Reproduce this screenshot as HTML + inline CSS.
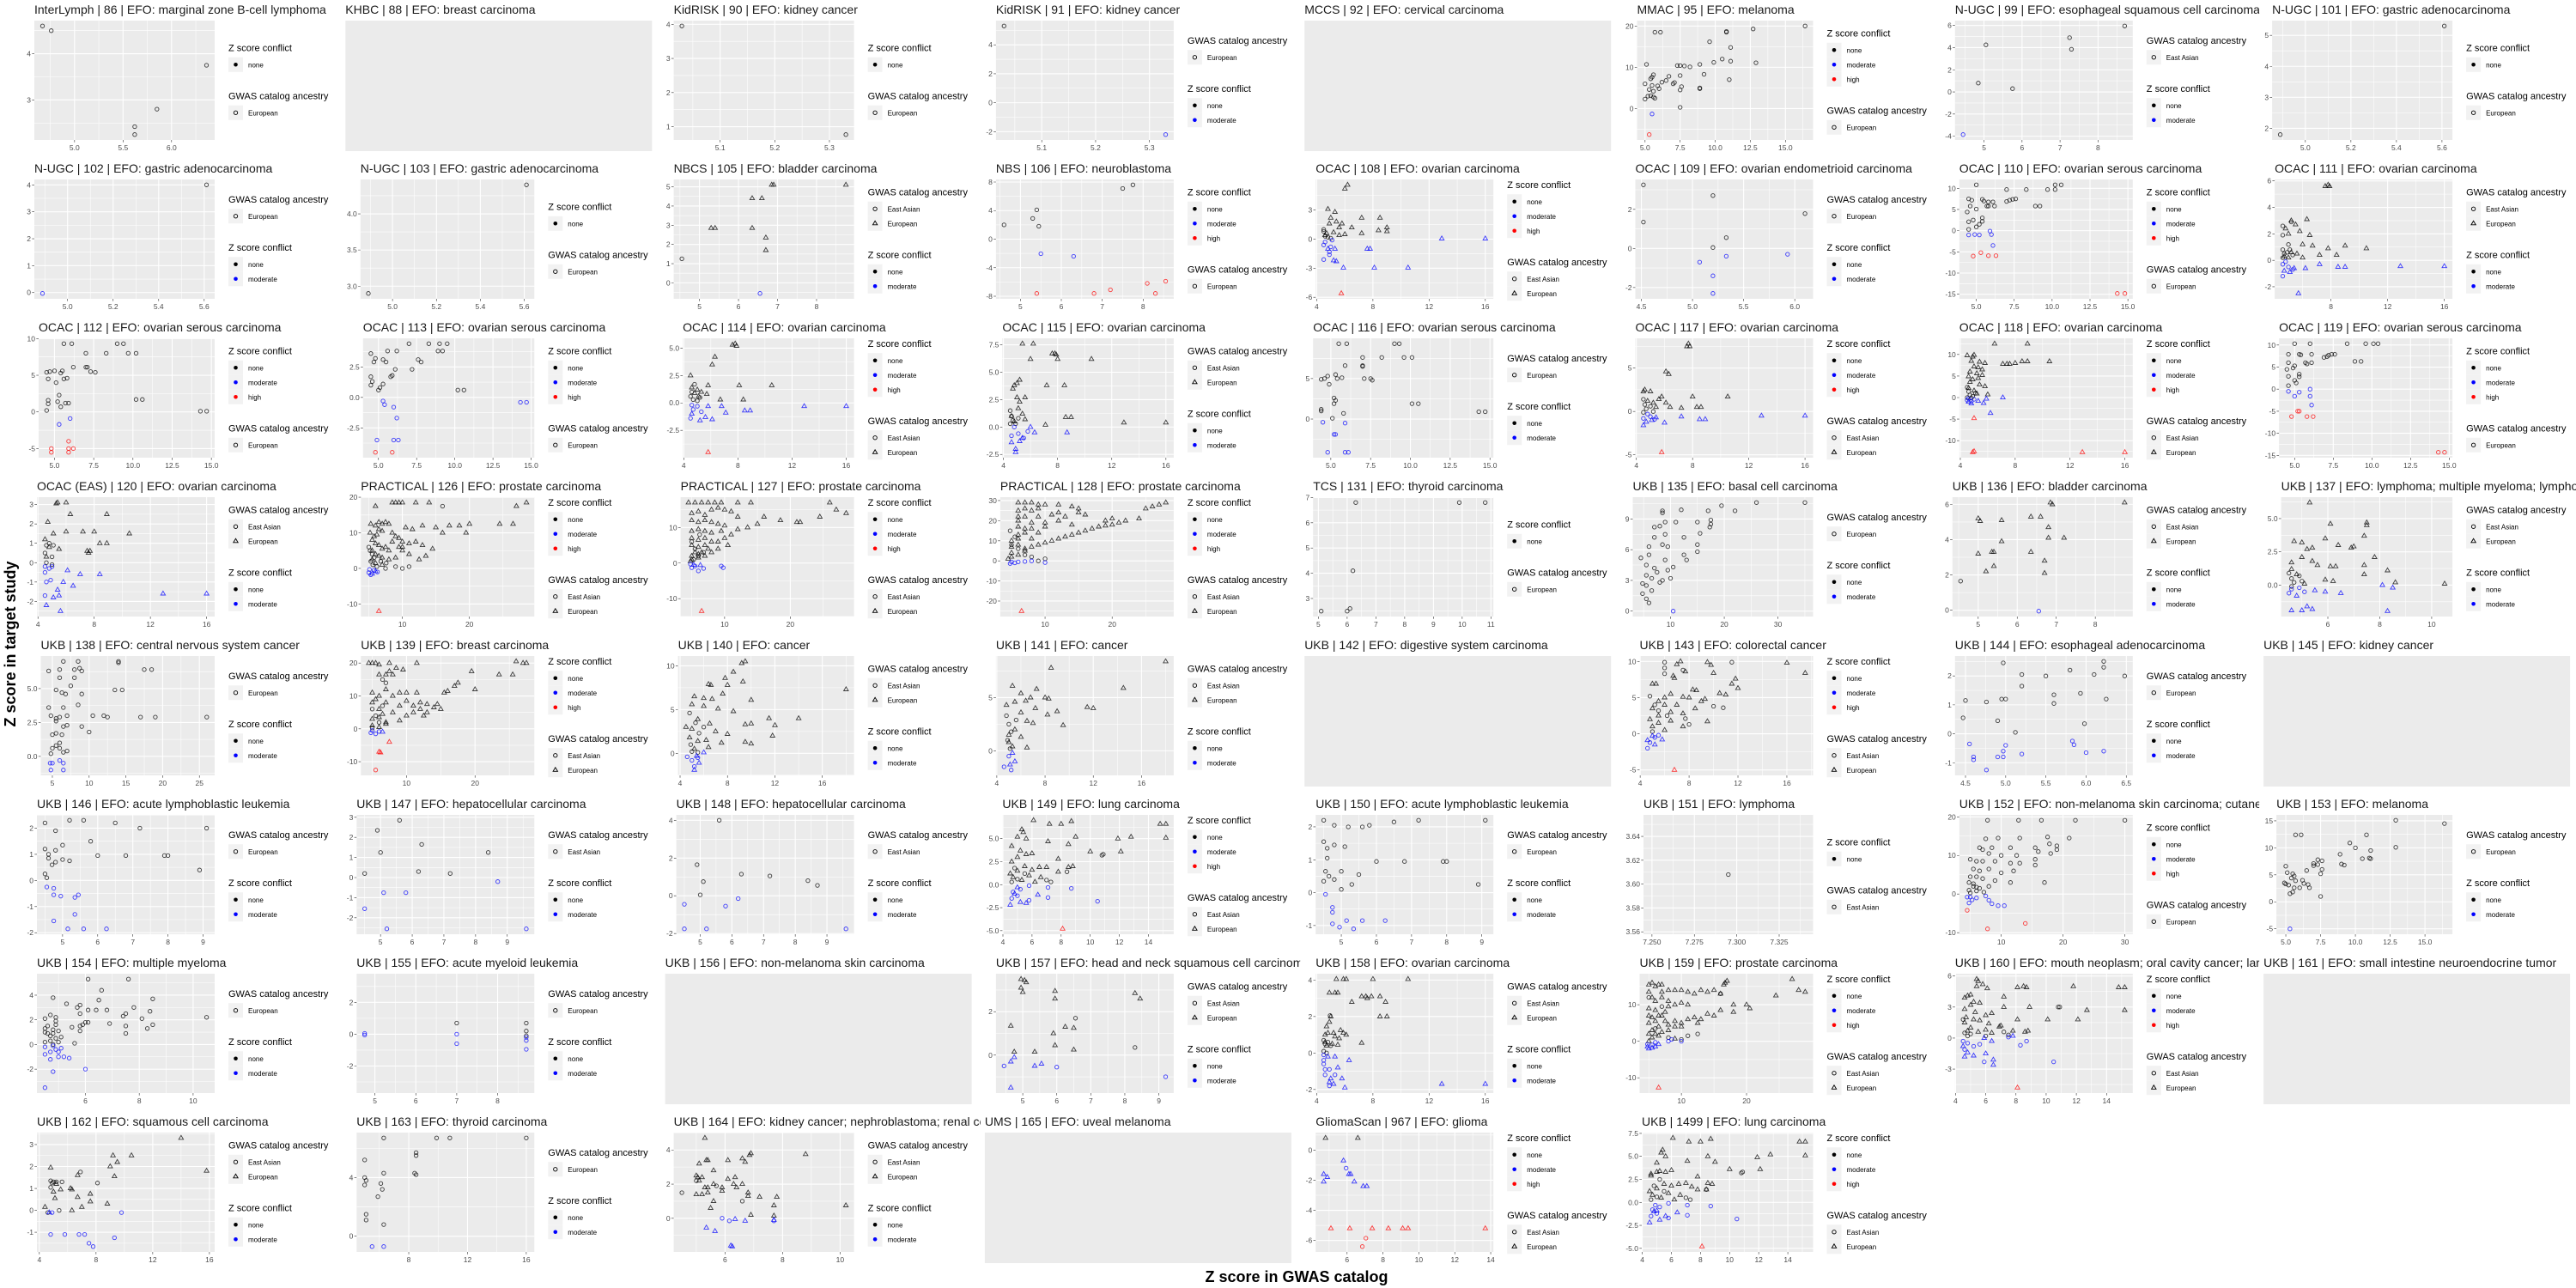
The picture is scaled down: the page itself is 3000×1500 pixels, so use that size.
<!DOCTYPE html>
<html><head><meta charset="utf-8"><style>
html,body{margin:0;padding:0;background:#fff;}
svg{display:block;font-family:"Liberation Sans",sans-serif;}
</style></head><body>
<svg id="chart" width="3000" height="1500" viewBox="0 0 3000 1500" xmlns="http://www.w3.org/2000/svg">
<rect width="3000" height="1500" fill="#fff"/>
<g id="panels"></g>
<text x="0" y="0" transform="translate(18,750) rotate(-90)" text-anchor="middle" font-size="18" font-weight="bold">Z score in target study</text>
<text x="1510" y="1493" text-anchor="middle" font-size="18" font-weight="bold">Z score in GWAS catalog</text>
</svg>
<script>
const titles = [
"InterLymph | 86 | EFO: marginal zone B-cell lymphoma","KHBC | 88 | EFO: breast carcinoma","KidRISK | 90 | EFO: kidney cancer","KidRISK | 91 | EFO: kidney cancer","MCCS | 92 | EFO: cervical carcinoma","MMAC | 95 | EFO: melanoma","N-UGC | 99 | EFO: esophageal squamous cell carcinoma","N-UGC | 101 | EFO: gastric adenocarcinoma",
"N-UGC | 102 | EFO: gastric adenocarcinoma","N-UGC | 103 | EFO: gastric adenocarcinoma","NBCS | 105 | EFO: bladder carcinoma","NBS | 106 | EFO: neuroblastoma","OCAC | 108 | EFO: ovarian carcinoma","OCAC | 109 | EFO: ovarian endometrioid carcinoma","OCAC | 110 | EFO: ovarian serous carcinoma","OCAC | 111 | EFO: ovarian carcinoma",
"OCAC | 112 | EFO: ovarian serous carcinoma","OCAC | 113 | EFO: ovarian serous carcinoma","OCAC | 114 | EFO: ovarian carcinoma","OCAC | 115 | EFO: ovarian carcinoma","OCAC | 116 | EFO: ovarian serous carcinoma","OCAC | 117 | EFO: ovarian carcinoma","OCAC | 118 | EFO: ovarian carcinoma","OCAC | 119 | EFO: ovarian serous carcinoma",
"OCAC (EAS) | 120 | EFO: ovarian carcinoma","PRACTICAL | 126 | EFO: prostate carcinoma","PRACTICAL | 127 | EFO: prostate carcinoma","PRACTICAL | 128 | EFO: prostate carcinoma","TCS | 131 | EFO: thyroid carcinoma","UKB | 135 | EFO: basal cell carcinoma","UKB | 136 | EFO: bladder carcinoma","UKB | 137 | EFO: lymphoma; multiple myeloma; lymphoid leukemia",
"UKB | 138 | EFO: central nervous system cancer","UKB | 139 | EFO: breast carcinoma","UKB | 140 | EFO: cancer","UKB | 141 | EFO: cancer","UKB | 142 | EFO: digestive system carcinoma","UKB | 143 | EFO: colorectal cancer","UKB | 144 | EFO: esophageal adenocarcinoma","UKB | 145 | EFO: kidney cancer",
"UKB | 146 | EFO: acute lymphoblastic leukemia","UKB | 147 | EFO: hepatocellular carcinoma","UKB | 148 | EFO: hepatocellular carcinoma","UKB | 149 | EFO: lung carcinoma","UKB | 150 | EFO: acute lymphoblastic leukemia","UKB | 151 | EFO: lymphoma","UKB | 152 | EFO: non-melanoma skin carcinoma; cutaneous squamous cell carcinoma","UKB | 153 | EFO: melanoma",
"UKB | 154 | EFO: multiple myeloma","UKB | 155 | EFO: acute myeloid leukemia","UKB | 156 | EFO: non-melanoma skin carcinoma","UKB | 157 | EFO: head and neck squamous cell carcinoma","UKB | 158 | EFO: ovarian carcinoma","UKB | 159 | EFO: prostate carcinoma","UKB | 160 | EFO: mouth neoplasm; oral cavity cancer; laryngeal carcinoma","UKB | 161 | EFO: small intestine neuroendocrine tumor",
"UKB | 162 | EFO: squamous cell carcinoma","UKB | 163 | EFO: thyroid carcinoma","UKB | 164 | EFO: kidney cancer; nephroblastoma; renal cell carcinoma","UMS | 165 | EFO: uveal melanoma","GliomaScan | 967 | EFO: glioma","UKB | 1499 | EFO: lung carcinoma"];

const legendOrder = ["ZG","","ZG","GZ","","ZG","GZ","ZG", "GZ","ZG","GZ","ZG","ZG","GZ","ZG","GZ", "ZG","ZG","ZG","GZ","GZ","ZG","ZG","ZG", "GZ","ZG","ZG","ZG","ZG","GZ","GZ","GZ", "GZ","ZG","GZ","GZ","","ZG","GZ","", "GZ","GZ","GZ","ZG","GZ","ZG","ZG","GZ", "GZ","GZ","","GZ","GZ","ZG","ZG","", "GZ","GZ","GZ","","ZG","ZG"];
const conflictLevels = [1,0,1,2,0,3,2,1, 2,1,2,3,3,2,3,2, 3,3,3,2,2,3,3,3, 2,3,3,3,1,2,2,2, 2,3,2,2,0,3,2,0, 2,2,2,3,2,1,3,2, 2,2,0,2,2,3,3,0, 2,2,2,0,3,3];
const ancestry = ["E","","E","E","","E","A","E", "E","E","AE","E","AE","E","E","AE", "E","E","AE","AE","E","AE","AE","E", "AE","AE","AE","AE","E","E","AE","AE", "E","AE","AE","AE","","AE","E","", "E","A","A","AE","E","A","E","E", "E","E","","AE","AE","AE","AE","", "AE","E","AE","","AE","AE"];
const xTickLabels = [["5.0","5.5","6.0"],[],["5.1","5.2","5.3"],["5.1","5.2","5.3"],[],["5.0","7.5","10.0","12.5","15.0"],["5","6","7","8"],["5.0","5.2","5.4","5.6"],
["5.0","5.2","5.4","5.6"],["5.0","5.2","5.4","5.6"],["5","6","7","8"],["5","6","7","8"],["4","8","12","16"],["4.5","5.0","5.5","6.0"],["5.0","7.5","10.0","12.5","15.0"],["4","8","12","16"],
["5.0","7.5","10.0","12.5","15.0"],["5.0","7.5","10.0","12.5","15.0"],["4","8","12","16"],["4","8","12","16"],["5.0","7.5","10.0","12.5","15.0"],["4","8","12","16"],["4","8","12","16"],["5.0","7.5","10.0","12.5","15.0"],
["4","8","12","16"],["10","20"],["10","20"],["10","20"],["5","6","7","8","9","10","11"],["10","20","30"],["5","6","7","8"],["6","8","10"],
["5","10","15","20","25"],["10","20"],["4","8","12","16"],["4","8","12","16"],[],["4","8","12","16"],["4.5","5.0","5.5","6.0","6.5"],[],
["5","6","7","8","9"],["5","6","7","8","9"],["5","6","7","8","9"],["4","6","8","10","12","14"],["5","6","7","8","9"],["7.250","7.275","7.300","7.325"],["10","20","30"],["5.0","7.5","10.0","12.5","15.0"],
["6","8","10"],["5","6","7","8"],[],["5","6","7","8","9"],["4","8","12","16"],["10","20"],["4","6","8","10","12","14"],[],
["4","8","12","16"],["8","12","16"],["6","8","10"],[],["6","8","10","12","14"],["4","6","8","10","12","14"]];
const yTickLabels = [["3","4"],[],["1","2","3","4"],["-2","0","2","4"],[],["0","10","20"],["-4","-2","0","2","4","6"],["2","3","4","5"],
["0","1","2","3","4"],["3.0","3.5","4.0"],["0","1","2","3","4","5"],["-8","-4","0","4","8"],["-6","-3","0","3"],["-2","0","2"],["-15","-10","-5","0","5","10"],["-2","0","2","4","6"],
["-5","0","5","10"],["-2.5","0.0","2.5"],["-2.5","0.0","2.5","5.0"],["-2.5","0.0","2.5","5.0","7.5"],["0","5"],["-5","0","5"],["-10","-5","0","5","10"],["-15","-10","-5","0","5","10"],
["-2","-1","0","1","2","3"],["-10","0","10","20"],["-10","0","10"],["-20","-10","0","10","20","30"],["3","4","5","6","7"],["0","3","6","9"],["0","2","4","6"],["-2.5","0.0","2.5","5.0"],
["0.0","2.5","5.0"],["-10","0","10","20"],["-5","0","5","10"],["-5","0","5"],[],["-10","-5","0","5","10"],["-1","0","1","2"],[],
["-2","-1","0","1","2"],["-2","-1","0","1","2","3"],["-2","0","2","4"],["-5.0","-2.5","0.0","2.5","5.0"],["-2","-1","0","1","2"],["3.56","3.58","3.60","3.62","3.64"],["-10","0","10","20"],["-5","0","5","10","15"],
["-2","0","2","4"],["-2","0","2"],[],["-2","0","2"],["-2","0","2","4"],["-10","0","10"],["-3","0","3","6"],[],
["-1","0","1","2","3"],["-4","0","4"],["0","2","4"],[],["-6","-4","-2","0"],["-5.0","-2.5","0.0","2.5","5.0","7.5"]];
const yLimits = {49:[-3.7,3.8]};

const panelPoints = [];
panelPoints[0] = {nc:[4.67,4.6,4.76,4.5,6.36,3.75,5.85,2.8,5.62,2.42,5.62,2.25]};
panelPoints[2] = {nc:[5.03,3.95,5.33,0.77]};
panelPoints[3] = {nc:[5.03,5.3], mc:[5.33,-2.2]};
panelPoints[5] = {nc:[5.7,18.5,6.1,18.5,9.6,16.2,10.8,18.5,10.8,18.7,12.7,19.3,16.4,20,11.1,14.8,5.1,10.7,7.3,10.4,7.5,10.4,7.8,10.3,8.2,10.1,8.9,10.7,9.9,11.2,10.5,12,11.1,11.5,12.9,11.1,9.2,8.3,11,7,5.6,8.2,5.5,7.6,5.4,7.2,6.7,7.8,6.5,6.8,6.2,6.4,7,6,7.1,6.3,7.5,8,7.6,5.3,7.5,4.5,5.9,5.5,6,4.8,5.5,5.6,5.3,4.6,5.6,4.2,5,6,5.2,3,5.4,3.1,5.6,2.8,5.7,2.5,5,2.3,8.9,4.8,8.9,5,7.5,0.3], mc:[5.5,-1.3], hc:[5.3,-6.3]};
panelPoints[6] = {nc:[8.7,5.95,7.25,4.9,7.3,3.85,5.05,4.25,4.85,0.8,5.75,0.3], mc:[4.45,-3.85]};
panelPoints[7] = {nc:[5.61,5.3,4.89,1.8]};
panelPoints[8] = {nc:[5.61,4.0], mc:[4.89,-0.03]};
panelPoints[9] = {nc:[5.61,4.4,4.89,2.9]};
panelPoints[10] = {nt:[6.85,5.1,6.9,5.1,8.75,5.1,6.35,4.4,6.6,4.4,5.3,2.85,5.4,2.85,6.35,2.85,6.7,2.35,6.7,1.7], nc:[4.55,1.25], mc:[6.55,-0.55]};
panelPoints[11] = {nc:[7.75,7.6,7.5,7.1,5.4,4.1,5.3,2.9,5.45,1.8,4.6,2.0], mc:[5.5,-2.05,6.3,-2.4], hc:[5.4,-7.6,6.8,-7.6,7.2,-7.1,8.1,-6.2,8.55,-5.9,8.3,-7.6]};
panelPoints[12] = {nt:[6,5.2,6.2,5.6,4.8,3.1,5.3,2.8,5,2.2,4.9,1.6,5.4,1.8,5.8,1.6,5.6,1.2,6.5,1.2,7.2,2.2,8.5,2.2,7.2,0.6,8.4,0.9,9,1.2,9,0.8,5.2,0.7,5.6,0.4,6,0.5,4.6,0.4,4.7,0.6], nc:[4.5,1,4.6,0.3,4.8,0.2,5,0.1,4.5,0.8], mt:[12.9,0.05,16,0.05,7.6,-1,7.8,-1,5.3,-1,5.2,-2.2,5.4,-2.3,5.9,-2.95,8.1,-2.95,10.5,-2.95,4.8,-1], mc:[4.5,-2.1,4.5,-0.6,4.6,-0.3,5,-0.8,5.1,-0.1,4.9,-1.6,4.9,-1.3], ht:[5.75,-5.6]};
panelPoints[13] = {nc:[4.52,3.25,5.2,2.7,6.1,1.78,4.52,1.35,5.33,0.55,5.2,0.05], mc:[5.07,-0.7,5.33,-0.4,5.93,-0.3,5.2,-1.4,5.2,-2.3]};
panelPoints[14] = {nc:[5,10.8,10.2,10.8,10.6,10.8,7,9.7,8.3,9.7,9.7,9.7,10.2,9.7,4.5,7.5,4.7,7.2,5.4,7.4,5.5,7,5.8,6.8,6.1,6.8,7,6.9,7.2,7.2,7.6,7.5,7.4,7.4,8.9,5.8,9.2,5.8,4.6,5.8,5,5.1,5.7,5.8,5.8,5.8,6.2,5.8,4.4,4.4,4.8,2.5,5.4,3,5.4,2.2,5.2,1.5,5,0.9,4.5,2.1,4.5,0.3], mc:[4.5,-1,4.9,-0.9,5.2,-1,5.9,-0.1,6,-0.9,6.1,-3.5], hc:[4.8,-6,5.3,-5.2,5.8,-5.9,6.3,-5.9,14.3,-14.8,14.8,-14.8]};
panelPoints[15] = {nt:[7.6,5.6,7.8,5.7,7.9,5.6,5.2,3,5.5,2.7,6.3,3.1,4.8,2.4,5.8,2.2,6.5,1.9,5,2,6,1.2,6.7,1.1,7.8,0.9,9,1.1,10.5,0.9,7.2,0.4,8.4,0.4,5.2,0.6,5.6,0.5,6,0.2,5,0.2,4.7,0.3], nc:[4.6,2.6,4.6,1.9,5,1.2,5.2,2.9,4.6,0.8,4.7,0.5,4.9,0.6,5.1,0.8,4.6,0.2,5.3,0.4], mt:[12.9,-0.45,16,-0.45,7.2,-0.3,8.5,-0.5,9,-0.5,5.7,-2.5,6.2,-0.6,5.4,-0.6,5.1,-0.9,4.7,-0.8], mc:[4.6,-1.2,4.6,-0.3,4.8,-0.1,5,-0.5,5.3,-0.7]};
panelPoints[16] = {nc:[5.6,9.3,6.1,9.3,9,9.3,9.4,9.3,7,8,8.3,8,9.7,8,10.2,8,6.2,6.1,7,6.1,7.1,6.1,7.3,5.5,7.6,5.4,4.5,5.4,4.7,5.5,5,5.6,5.4,5.3,5.5,5.6,4.6,4.5,5.1,4,5.6,4.5,5.8,4.6,5.3,2.3,5.2,1.4,4.6,1.6,4.6,1.1,5.7,1.2,5.9,1.2,5.4,0.7,10.2,1.7,10.6,1.7,14.3,0.1,14.7,0.1,4.5,0.2], mc:[5.3,-1.7,6,-0.9], hc:[4.8,-5,4.8,-5.5,5.9,-4,5.9,-5,5.9,-5.5,6.2,-5]};
panelPoints[17] = {nc:[7,4.4,8.3,4.4,9,4.4,9.5,4.4,8.9,3.8,9.2,3.8,6.2,3.8,5.6,3.8,4.5,3.6,4.8,3.2,4.7,2.9,5.3,3.1,5.5,2.9,7.6,3.1,7.8,2.9,6.1,2.3,7.2,2.3,5.8,1.7,5.9,1.8,4.5,1.7,4.6,1.3,4.5,1,5.3,1.1,5.1,0.8,5,0.6,10.2,0.6,10.6,0.6], mc:[5.3,-0.3,5.4,-0.6,6,-0.8,6.2,-1.7,14.3,-0.4,14.7,-0.4,4.9,-3.5,6,-3.5,6.3,-3.5], hc:[4.8,-4.5,5.9,-4.5]};
panelPoints[18] = {nt:[7.6,5.3,7.8,5.4,7.9,5.2,6.3,4.2,6.1,3.5,4.5,2.5,5.8,1.6,8.1,1.6,10.5,1.6,4.6,1.4,5,1.2,5.3,1,5.7,0.8,6.7,0.3,8.4,0.3,5.1,0.6,4.8,0.9], nc:[4.8,1.7,4.5,0.6,4.7,0.3,5,0.2,5.2,0.5,4.6,1], mt:[12.9,-0.3,16,-0.3,6.8,-0.3,8.5,-0.7,8.9,-0.7,7.1,-0.9,6.1,-1.5,5.6,-1.3,5.2,-1.6,4.6,-1,5.8,-0.3], mc:[4.5,-1.4,4.7,-0.6,5,-0.3,5.3,-0.8,4.6,-0.2], ht:[5.8,-4.5]};
panelPoints[19] = {nt:[5.4,7.6,6.2,7.6,7.6,6.7,7.8,6.7,7.9,6.6,6,6.2,8,6.2,10.5,6.2,5.2,4.3,5,4,4.8,3.8,4.7,3.5,7.2,3.8,8.5,3.8,5,2.7,5.6,2.7,5.2,2.3,8.6,0.9,9,0.9,12.9,0.4,16,0.4,7.1,0.2,5.1,1.7,5.4,1.2,5.6,0.7,4.6,1,4.8,0.5], nc:[4.5,1.5,4.6,1,4.7,0.6,4.9,0.3,5.1,0.8,4.5,0.3], mt:[8.7,-0.5,6.3,-0.5,5.4,-1,5.2,-1.3,4.6,-1.4,4.9,-2,4.9,-2.3,6,0], mc:[4.6,-0.8,4.8,0,5.1,-0.6,5.8,-0.4,5.5,-1]};
panelPoints[20] = {nc:[5.5,9.3,6,9.3,9,9.3,9.3,9.3,7,7.6,8.2,7.6,9.6,7.6,10.1,7.6,5.9,6.6,7,6.5,7,6.6,4.4,4.9,4.6,5,4.8,5.3,5.3,5.5,5.4,5,5.7,5.1,7.1,5,7.5,5,7.6,4.8,4.9,4.3,5.2,2.6,5.3,2.3,5.2,1.9,4.4,1,4.4,1.2,5.8,0.7,5.1,0.1,10.1,1.9,10.5,1.9,14.3,0.9,14.7,0.9], mc:[4.5,-0.4,5.9,-0.5,5.2,-1.9,5.3,-1.9,4.8,-4.1,5.9,-4.1,6.1,-4.1]};
panelPoints[21] = {nt:[7.6,7.5,7.7,7.8,7.8,7.5,6.1,4.6,6.3,4.3,4.5,2.3,4.6,2.5,5,2.3,5.8,1.7,8,1.7,10.5,1.7,5.6,1.4,6.1,1,6.4,0.5,7.2,0.4,8.3,0.5,8.6,0.5,5.2,1,5.4,0.5,4.8,1.2], nc:[4.5,1.4,4.6,0.8,4.7,0.3,5,0.6,5.2,0,4.5,-0.1], mt:[12.9,-0.5,16,-0.5,7.2,-0.6,8.5,-0.9,8.9,-0.9,6,-1.3,5.1,-1,4.7,-1.2,4.5,-1.6,5.4,-0.7], mc:[4.5,-0.8,4.8,-0.3,5,-0.6,5.3,-0.9], ht:[5.8,-4.7]};
panelPoints[22] = {nt:[6.5,12.5,8.9,12.5,4.5,9.8,4.9,9.5,5,9.9,4.8,8.5,5.4,8.3,5.8,8,7.1,7.8,7.4,7.8,7.6,7.8,8,8,8.5,8.4,8.9,8.4,10.5,8.4,5,7.2,5.3,7,5.6,6.5,4.7,6,5.2,5.6,5.6,5.2,4.6,4.9,4.9,4.2,5.3,4.5,4.7,3.6,5.4,3,5.8,2.6,4.6,2.2,5,1.6,5.2,0.9,6,0.7], nc:[4.5,2.4,4.6,1.4,4.7,0.6,4.9,0.3,5.1,1,4.5,0,4.8,-0.1], mt:[7.1,0,6.2,-3.6,5.7,-1.3,5.3,-0.8,4.8,-1.4,4.6,-1,5.9,-0.3], mc:[4.5,-0.6,4.6,-0.2,4.8,-0.9,5,-0.4], ht:[4.9,-12.7,5,-12.5,12.9,-12.7,16,-12.7,5,-4.8]};
panelPoints[23] = {nc:[5,10.3,6,10.3,8.4,10.3,9.6,10.3,10.1,10.3,10.4,10.3,4.6,7.9,5.3,7.9,5.4,7.8,6.1,7.9,7.1,7.4,7.2,7.7,7.4,7.9,7.6,7.9,6.9,7.2,8.9,6.3,9.3,6.3,4.6,6,5,5.3,5.7,6,5.8,5.7,6.1,6,4.5,4.5,4.9,4.8,5.3,3.4,5.3,2.8,5,2,4.6,2.9,5.1,1.4,4.6,0.8], mc:[4.6,-0.5,5.3,-0.7,5,-1.6,6,0,6,-1.6,6.1,-3.6], hc:[5.2,-5,5.3,-5,4.8,-6.2,5.8,-6.2,6.2,-6.2,14.3,-14.3,14.7,-14.3]};
panelPoints[24] = {nt:[5.3,3.05,5.4,3.1,6,3.1,6.3,2.5,8.9,2.5,4.7,2.1,5.1,1.5,6,1.6,7.2,1.6,8,1.6,10.5,1.5,8.4,1,8.9,1,7.5,0.6,7.7,0.6,7.6,0.5,4.5,1.2,4.8,0.8,5.5,0.7,4.6,0.3], nc:[4.6,0.9,4.8,1,5.1,0.9,4.5,0.5,4.6,0,5,0.3,5,-0.1], mt:[12.9,-1.6,16,-1.6,7,-0.6,8.4,-0.6,6.1,-0.4,6.5,-1.2,5.8,-1,5.4,-1.4,5.5,-1.7,5.1,-1.8,5.6,-2.5,4.6,-2.2], mc:[4.5,-0.2,4.5,-0.5,4.8,-0.3,5,-0.2,4.9,-0.9,4.6,-1,4.5,-1.7]};
panelPoints[25] = {nt:[6,17.5,8.5,18.5,9,18.5,9.5,18.5,10,18.5,12,18.5,14,18.5,27,17.5,28.5,18.5,17,12,18.5,12,20,12.5,24.5,12.5,26.5,12.5,15,11.5,16,10,19.5,10,13,12,11.5,11,10.5,11.5,6,12,6.5,13,7,12.5,7.5,13,8,12.5,6.5,11,7,10.5,8.5,10,9,9,9.5,8.5,10,7.5,11,7,12,7.5,13,6.5,14.5,5.5,13.5,3.5,12.5,2.5,11,4,10,5,5.5,8,6,7,6.5,6.5,7,5.5,7.5,6,8,5,5.5,5,6,4,6.5,3.5,7,3,8,2.5,9,3,5.5,2.5,6,1.5,7,1,10,6,8.5,7.5,9.5,6,5.2,10,5.8,9,5.3,12.5,6.2,9.5], nc:[5,6,5.2,5,5.5,4,5.8,3,5.3,2,5.6,1,6.2,0.5,7.5,0,11,0.5,6.8,2,7.6,1.5,10,0,16,17.5,9,0.5], mc:[5,-1.2,5.3,-1.8,5.8,-0.5,6.3,-1,5.1,-0.3], mt:[5.5,-1.5,6,-0.8], ht:[6.5,-12]};
panelPoints[26] = {nt:[4.5,17,5.5,17,6.5,17,7.5,17,8.5,17,9.5,17,12,17,14,17,26,17,27,15,28.5,14,24.5,13,21,11.5,21.5,11.5,18.5,12,16,13,15,11,13.5,10,12,9.5,11,8,10,7,9,6,10.5,5,9,4,8,3,7,2,6,1.5,5,1,5,14,6,14.5,7,13.5,8,15,9,15.5,10,15,11,14.5,12,13,5,12,6,11.5,7,12,8,11.5,9,11,10,10.5,5,9,6,9.5,7,9,8,8.5,5,7,6,6.5,7,7,8,6,5,5,6,4.5,7,5,5.5,3,6.5,3,7.5,4,5,2,6,2.5,4.8,0.5,9.5,9], nc:[5,6,5.5,4,6,2,5.3,1,6.8,3,6.2,8], mc:[5,-1.3,5.5,-0.8,6,-2.2,6.8,-1.5,9.5,-0.8,9.8,-1.3,4.8,-0.3], mt:[5.3,-0.5,6.3,-0.6], ht:[6.5,-13.5]};
panelPoints[27] = {nt:[6,29,7,29,8,29,9,28,10,28,12,28,14,27,15,26,6,25,7,26,8,25,9,26,12,24,15,24,6,22,7,22,9,22,11,23,13,22,16,23,6,20,8,19,10,19,12,20,14,18,6,17,7,16,8,16,10,17,6,13,7,14,9,14,5,10,6,11,8,11,5,7,6,8,7,6,5,4,6,3,5,2,4.5,1,7,5,8,7,9,8,10,9,11,10,12,11,13,12,14,13,15,14,16,15,17,16,18,17,19,17.5,20,18,21,19,22,20,24,21,25,26,26,27,27,28,28,29,19,20,20,21], nc:[5,8,6,6,7,3,8,2,9,0,10,1,4.8,15,5.5,12], mc:[5,-0.5,5.5,-1,6,-0.5,7,-0.3,8,0,10,-0.8,4.8,-1.3], ht:[6.5,-25]};
panelPoints[28] = {nc:[6.3,6.8,9.9,6.8,10.8,6.8,6.2,4.1,5.1,2.5,6,2.5,6.1,2.6]};
panelPoints[29] = {nc:[35,10.6,26,10.6,19.5,10.3,22,9.8,17,9.8,12,9.9,8.5,9.6,8.5,9.8,11,8.7,15,8.7,17.5,8.9,17.5,8.5,17.3,8.2,8,8.3,7,8.2,9,8.7,12.5,7.2,15.5,7.6,7,7.2,9,7.5,15,6.5,15,5.8,12.5,5.5,13,5,10.5,4.3,9,5,9.5,6.3,8.5,6.5,6,6.3,6,5.5,4.5,5.2,5.5,4.5,7,4.2,5.5,3.5,6.5,3.2,5.5,2.5,6.5,2,4.8,2.7,4.8,1.7,5.5,1.2,6,0.8,7.5,3.8,8.5,3,8,2.8,10,3.2,9.5,4], mc:[10.5,0]};
panelPoints[30] = {nt:[6.85,6.1,6.9,6,8.75,6.1,5,5.2,5.05,5.05,5.6,5.1,6.35,5.3,6.6,5.3,6.8,4.7,6.8,4.1,7.2,4.1,5.6,3.9,5,3.2,5.35,3.3,5.4,3.3,6.35,3.3,5.4,2.5,5.2,2.2,6.7,2.8,6.7,2.1], nc:[4.55,1.65], mc:[6.55,-0.05]};
panelPoints[31] = {nt:[5.3,6.2,6.1,4.6,7.5,4.5,7.5,4.7,5.9,3.5,7.4,3.7,4.7,3.3,5,3.2,6.4,3,5.4,2.8,5.2,2.7,6.9,2.8,7,2.9,7.8,2.1,5,2.1,5.4,1.8,4.6,1.7,6.1,1.4,6.3,1.4,7.4,1.5,7.4,0.8,8.3,1.1,5.9,0.4,6.2,0.3,4.6,1.2,4.8,0.8,5.6,1.5,10.5,0.1,8.6,0.2,5.1,0.1], nc:[4.5,0.9,4.6,0.5,4.7,0.2,4.9,0.7,5,0.3,4.6,-0.1], mt:[8.5,-0.2,8.1,0,6.5,-0.6,5.9,-0.5,5.5,-0.4,5.2,-1.6,5,-1.9,5.4,-1.8,4.6,-1.9,8.3,-1.95,4.8,-0.8], mc:[4.5,-0.6,4.6,-0.3,4.9,-0.2,5.1,-0.5]};
panelPoints[32] = {nc:[6.5,7,8.5,7,14,7,14,6.9,4.5,6.3,6,6.4,8,6.4,8.7,6.5,9,6.3,17.5,6.4,18.5,6.4,6,5.8,8,5.8,7.5,5.2,5.5,4.9,6.3,4.7,6.8,4.6,9,4.6,13.5,4.9,14.5,4.9,8.5,3.8,4.5,3.6,6.5,3.6,4.8,3,5.5,2.8,6,2.9,7,3,10.5,3,12,3,12.5,2.9,17,2.9,19,2.9,26,2.9,5.5,2.6,6.5,2.2,7,2.3,9,2.2,10,1.8,5,1.6,5.5,1.7,6.3,1.6,6,1,5.5,0.8,5,0.6,6,0.6,6.5,0.3,7,0.4,4.8,0.2], mc:[4.7,-0.5,5,-0.5,6,-0.3,6.5,-0.5,4.8,-1,6.5,-1]};
panelPoints[33] = {nt:[4.5,20,5,20,5.5,20,6,19.5,7.5,20,11.5,20,26,20.5,27,20,27.5,20,8.5,18.5,9.5,18,7.5,17.5,6,16.5,7,16.5,8,16.5,19.5,17.5,23.5,16.5,25.5,16.5,17,13,17.5,14,20,12,15.5,11,16,11.5,10,11,11.5,11,9,11,7,12,5,11,6,10,8,10,10,8.5,12,8,13,7.5,14.5,7.5,15,6,13,5,12,6,11,7,9,7,7,8,5,8,6,6,8,5,10,4,5,3,6,3.5,7,2,5,1,6,0.5,7,1.5,9,2.5,11,5,12.5,4,14,6.5,5.5,9,6.5,4.5], nc:[5,6,5.5,4,6,2,5,0.3,6.5,7,7,14,6.5,15], mc:[5,-0.5,5.5,-1.5,6,-0.8,4.8,-1.2], mt:[6.5,-0.9], ht:[7.5,-4,6,-7,6.2,-7.2], hc:[5.5,-12.5]};
panelPoints[34] = {nt:[9.2,10.3,9.5,10.5,8.5,9.3,7.8,8.6,9.3,8.2,6.4,7.9,6.6,7.8,8,7.8,7.6,6.8,5.2,6.5,6,6.3,6.7,6.2,10,6.1,5,5.6,6,5.4,7.2,5.1,8.5,4.8,18,7.3,11.5,4,14,4,9.5,3.3,10,3.4,12,3.2,11.8,2,9.5,1.3,10,1.1,7,2.5,8,2.2,6.5,3.4,5.5,3.9,4.5,3,5,2.8,4.8,1.8,5.5,1.4,6.2,1.5,7.5,1.2,5.2,0.5,6.4,0.7], nc:[4.8,4.6,5.3,3.5,5.6,2.3,4.9,1,5,0.2,5.5,0.1,6,3], mc:[4.6,-0.4,5,-0.8,5.2,-1.5,5.5,-0.5], mt:[5.2,-1.9,5.4,-0.3,5.6,-1.1,6,0.1]};
panelPoints[35] = {nt:[18,8.4,8.5,7.8,14.5,5.9,5.3,6.1,6,5.4,7.3,5.8,6.8,5,8,5,8.3,4.9,6.4,4.7,7.2,4,4.8,4.3,5.5,4.6,11.5,4.1,12,4,8.2,3.4,9,3.7,9.5,2.4,6,3.6,6.5,2.8,7,2.6,5.5,2,5,1.5,6,1.3,6.5,0.3,5,0.8,5.3,0.4], nc:[4.8,3.3,5,2.5,5.2,1.8,4.9,1,5.1,0.2,5.6,2.9], mc:[4.6,-1.5,5,-0.5,5.2,-1.8], mt:[5.3,-0.2,5.5,-1,5.1,-1.3]};
panelPoints[37] = {nt:[16,9.8,17.5,8.4,7,9.6,7.3,10,9.5,9.9,9.8,9.5,10,8.4,7.7,8.6,6.7,8,6.8,7.7,11.8,7.6,11.5,6.9,12,6.3,5,6.9,5.3,6.9,8.3,6.1,8.6,6,10.5,5.6,11,5.4,7.5,5.1,8,5,9,4.5,9.3,4.8,6,5,6.5,5.5,5.5,4.5,6,4,7,4,8.5,3.5,5,3.5,5.5,2.5,6.5,3,7.5,2.8,4.8,2,5.5,1.5,6.5,1.8,7.5,1,9.5,1.7,5,1,6,0.5], nc:[6,9.9,11.5,9.9,6,9.1,6,8.3,7.5,8.8,4.8,5.2,5.2,4,5.5,3.2,6.2,2.5,5,0.3,10.8,3.6,10,3.8,8,1.3,7.7,2.1], mt:[5.2,-1.5,5.8,-0.8,5,-0.3,4.6,-0.9], mc:[4.6,-2,4.8,-1.2,5.2,-0.5,5.5,-0.2], ht:[6.8,-5]};
panelPoints[38] = {nc:[4.97,2.45,6.22,2.5,6.22,2.3,6.1,2.05,6.48,2,5.8,2.2,5.2,2.05,5.5,2,5.2,1.65,5.6,1.35,5.6,1.05,5.93,1.4,6.25,1.2,4.5,1.15,4.76,1.1,4.95,1.2,5,1.2,4.47,0.55,4.9,0.45,5.98,0.35,5.12,0.05], mc:[4.55,-0.35,4.6,-0.8,4.6,-0.9,4.76,-1.25,4.9,-0.8,4.97,-0.8,5,-0.4,4.97,-0.6,5.2,-0.7,5.83,-0.25,5.85,-0.38,6,-0.65,6.22,-0.6]};
panelPoints[40] = {nc:[4.5,2.2,5.2,2.3,5.6,2.3,6.5,2.2,7.2,2,9.1,2,4.8,1.9,5.8,1.5,5,1.35,4.5,1.2,4.8,1.15,4.6,1,4.6,0.85,4.8,0.7,4.7,0.6,5,0.8,5.2,0.75,6,0.95,6.8,0.95,7.9,0.95,8,0.95,8.9,0.4,4.5,0.25,4.55,0.1], mc:[4.55,-0.25,4.75,-0.3,4.75,-0.55,4.95,-0.6,5.35,-0.65,5.45,-0.55,5.35,-1.3,4.75,-1.55,5.15,-1.85,5.6,-1.85,6.25,-1.85]};
panelPoints[41] = {nc:[5.6,2.85,4.9,2.35,6.3,1.65,5,1.25,8.4,1.25,4.5,0.2,6.2,0.3,7.2,0.2], mc:[8.7,-0.2,5.1,-0.75,5.8,-0.75,4.5,-1.55,5.2,-2.55,9.6,-2.55]};
panelPoints[42] = {nc:[5.6,4,4.9,1.65,5.1,0.75,6.3,1.15,7.2,1.05,8.4,0.8,8.7,0.55,5,0.05], mc:[4.5,-0.45,5.8,-0.55,6.2,-0.15,4.5,-1.75,5.2,-1.75,9.6,-1.75]};
panelPoints[43] = {nt:[6.1,7,7.2,6.6,8,6.6,8.7,6.9,14.8,6.6,15.2,6.6,5.3,6,5.4,5.7,5,5.2,5.6,5,7.1,4.7,9,5.2,8.5,4.4,11.9,5,12.8,5.2,15.2,5.1,10,3.6,12.1,3.6,4.6,4.2,5.2,3.7,5.6,3.3,6,3.4,5,3,7.8,2.8,8.5,1.9,8.8,2,7,1.9,6.5,1.9,6,1.6,5.5,2,5,1.5,4.6,2.5,5.8,1,6.6,0.8,7.8,1.4,5.3,0.5,4.7,0.8,6.2,0.3,4.5,1.2], nc:[10.9,3.3,10.8,3.2,7,0.5,7.3,0.3,8.4,1.4,4.6,0.3,5,0.6,4.8,1.8,5.5,1.2], mc:[5.8,-0.1,7.1,-0.3,8.7,-0.4,10.5,-1.8,7.1,-1.4,5.8,-1.7,5,-1.2,4.7,-0.8,5.2,-0.5,4.6,-1.5], mt:[4.5,-2.2,5.2,-1.9,6.4,-1.1,5,-0.3,4.8,-1,5.6,-2], ht:[8.1,-4.8]};
panelPoints[44] = {nc:[4.5,2.2,4.8,2.05,5.2,2,5.6,2,5.8,2.05,6.5,2.15,7.2,2.2,9.1,2.2,4.5,1.55,4.6,1.35,4.8,1.45,5.1,1.4,4.6,1.05,6,0.95,6.8,0.95,7.9,0.95,8,0.95,4.55,0.65,4.65,0.5,5,0.65,4.8,0.4,5.5,0.55,4.5,0.35,5.3,0.25,5,0.1,8.9,0.25], mc:[4.55,-0.05,4.75,-0.45,4.75,-0.6,4.75,-0.95,4.95,-1.05,5.15,-0.85,5.35,-1.1,5.6,-0.85,6.25,-0.85]};
panelPoints[45] = {nc:[7.295,3.608]};
panelPoints[46] = {nc:[7.8,19.1,12.8,19.1,16.5,19.1,22,19.1,30,19.1,7.5,14.3,9.5,14.5,13,14.5,17.5,14.8,17.8,13,21,14.5,19,12.5,15.5,12,16,11,19,11.5,6.5,12,7,11.5,8.5,12,11.5,12,8,10.5,10,10,12.5,10,15.5,9,18,10.5,5,9,6,8.5,7,8.5,9,8.5,11.5,8,13,8,15.5,7.5,5.5,6.5,6.5,6,8,6.5,10,5.5,12,6,5,4.5,6,4.5,7,4,9,3.5,11.5,3,17,3,4.8,3,5.5,2,6.5,1.5,8,2,4.8,1,6,0.8,7.2,0.5,5,0.3,5.5,2.7,6,1.8], mc:[4.5,-0.8,5,-0.8,5.3,-1.5,6,-1,7.5,-0.5,8,-1.6,8.5,-2.5,9.5,-3,10.5,-3,4.8,-2.3], hc:[4.5,-4.2,7.8,-9,13.9,-7.6]};
panelPoints[47] = {nc:[12.9,15.1,16.4,14.5,5.7,12.4,6.1,12.4,10.8,12.4,9.6,10.9,10,10,11.1,9.5,12.9,10.1,8.9,8.8,7.3,7.8,7.6,7.6,7,7.1,7.3,6.9,7.6,6,7,6.7,7.5,5.2,6.5,5.8,9.2,6.8,9,7,10.5,8,11.1,8,11,8.1,5,6.6,5.1,5.4,5.6,4.8,5.5,5.2,5.4,4.4,5.7,3.9,6.2,4,6.3,3.4,6.6,3.2,6.7,2.6,6,2.6,5.6,2.6,4.9,3.5,5.2,3.1,5.3,1.5,5.5,1.8,7.5,1,5,3.3], mc:[5.3,-5]};
panelPoints[48] = {nc:[6.1,5.3,7.6,5.3,6.6,4.4,4.8,3.8,8.5,3.7,6.5,3.6,5.3,3.3,5.8,3.2,5.7,3,7.8,3,6.1,2.8,6.4,2.8,6.8,2.8,8.4,2.7,5.8,2.5,7.5,2.5,7.4,2.3,10.5,2.2,4.7,2.4,4.9,2.2,4.5,2.1,8.1,2.1,4.9,1.9,6,1.8,6.1,1.8,5.9,1.6,6.9,1.7,7.5,1.5,8.5,1.6,4.6,1.5,4.9,1.6,5.5,1.4,5.8,1.5,4.5,1.3,4.8,1.2,5,1.1,5.8,1.1,8.3,1.3,7.5,0.9,4.5,1,4.6,0.9,4.7,0.7,4.8,0.9,5.1,0.6,4.9,0.5,4.7,0.3,5,0.2,5.6,0.1,4.5,0.2,4.8,0], mc:[4.5,-0.2,4.5,-0.8,4.7,-0.6,4.8,-0.1,4.9,-0.4,5,-0.6,5.1,-0.3,5,-1,5.2,-1,5.4,-1.1,4.7,-1.2,4.8,-2.2,6,-2,4.5,-3.5]};
panelPoints[49] = {nc:[7,0.7,8.7,0.7,8.7,0.2,8.7,-0.1], mc:[4.75,0.05,4.75,-0.05,7,0,7,-0.6,8.7,-0.2,8.7,-0.4,8.7,-0.95]};
panelPoints[51] = {nt:[4.95,3.5,5.05,3.45,5.1,3.35,4.95,3.1,5,2.9,5.95,2.95,5.95,2.6,8.3,2.85,8.45,2.6,4.65,1.35,6.25,1.3,6.5,1.25,5.9,1,5.95,0.45,6.5,0.25,4.75,0.15,5.35,0.15], nc:[6.55,1.7,8.3,0.35], mc:[4.45,-0.5,6,-0.55,9.2,-1], mt:[4.65,-0.3,4.75,-0.1,5.35,-0.5,5.55,-0.4,4.65,-1.5]};
panelPoints[52] = {nt:[5.4,4.05,5.9,4.05,6.1,4.05,8,4.05,10.5,4.05,4.9,3.3,5.3,3.3,5.5,3.3,6.5,2.8,7.2,3.1,7.5,3.1,7.6,3,7.9,3.1,8.5,3.1,8.9,2.8,5,2,8.5,2,9,2,4.9,1.7,4.7,1.45,5.7,1.25,4.8,1.1,5.2,1.1,5.9,1.1,6.1,1,4.6,1,5.3,0.9,5.6,0.8,5.5,0.45,7.2,0.55,4.6,0.6,4.7,0.4,5.1,0.5], nc:[4.95,2.05,4.5,0.7,4.6,0.5,4.8,0.6,5,0.4,4.5,0.1,4.7,0], mt:[12.9,-1.7,16,-1.7,6.3,-0.4,5.3,-0.2,4.8,-0.2,5.5,-0.8,5,-1.4,5.8,-1.4,6,-1.9,5.2,-1.7,4.9,-1.6], mc:[4.5,-0.1,4.5,-0.4,4.5,-0.6,4.6,-0.9,4.6,-1.2,4.9,-0.9,5.3,-1.2,4.9,-1.8]};
panelPoints[53] = {nt:[27,17,29,13.5,28,14,24.5,12.5,16.5,15.5,16.7,16,17,16.5,16,13,13,14,14,13.5,15,14,12,13,11,13.5,10,14,9,14,8,14,7,13.5,6,15,5,15.5,5.5,16,6.5,15.5,7,15.5,5,13.5,5.5,12,6,11,7,12,8,11,9,10,10,10.5,11,10,18,10,20,10,20.5,9,18,8,16,8.5,15,7,14,7.5,13,6,12.5,5,12,6.5,11,6,10,5,9,5.5,8,4.5,9,4,10,4,8,3,7,2.5,6,2,5,2,5.5,3,6.5,4,7.5,5.5,5,5,5.5,6.5,6.5,7,7.5,8,8,9.5,5,9,6,8.5,7,7,5,7,6,5.5,5.5,1,6.5,1.5,9,0.7,5,0], nc:[5,12,7,9.5,6,3.5,8,1,16,13,11,1.5,12.5,2,10,0.5], mc:[8,0,8.5,0.5,10,0,4.8,-0.8,5.5,-1,6,-0.3], mt:[5,-2,5.5,-1.8,6,-1.5,6.5,-0.8,4.8,-1.5], ht:[6.5,-12.7]};
panelPoints[54] = {nt:[5.4,5.7,5.5,5.5,5.4,5,5.8,5.2,6.1,4.8,8.1,4.9,8.5,5,8.7,4.9,11.8,5,14.8,4.9,15.2,4.9,7.2,4,4.6,3.9,4.8,4.1,5,4.2,5.2,3.5,5.6,3.4,5,3.2,7.2,3,8.9,3,12.7,2.7,15.2,2.7,4.6,2.8,5.3,2.5,6,2.2,6.4,2.4,8.1,1.8,10.1,1.8,12.1,1.8,4.7,2,5.2,1.8,5.6,1.7,6.2,1.4,6.9,1.1,7,1.2,6,0.8,7.8,0.7,8.6,0.6,8.8,0.7,5,1,5.5,0.6,4.6,1.5,4.8,0.7,6.4,0.5], nc:[10.8,3,10.9,3,4.5,1.8,4.6,0.5,4.8,0.2,5,0.4,6,0.2,7.2,0.6,7.5,0.3], mc:[8.3,-0.7,8.7,-0.3,7.5,0.1,10.5,-2.3,5.9,-2.3,4.6,-1.1,4.8,-0.5,5.2,-0.8,5.6,-0.6,4.5,-0.3], mt:[7.8,0.2,6.5,-2.1,6.5,-2.6,6,-1.5,5.2,-1.7,4.6,-1.8,4.8,-1.4,6.4,-0.3,5.9,0,4.5,-0.8], ht:[8.1,-4.8]};
panelPoints[56] = {nt:[14,3.3,9.2,2.5,10.5,2.5,9.5,2.2,9,2,15.8,1.8,4.8,1.95,6.7,1.6,9.3,1.55,5.2,1.2,5.5,0.95,5,0.85,6.2,1,6.3,0.95,7.6,0.75,5.1,0.55,6.7,0.6,7.6,0.4,8.8,0.3,7,0.15,6.3,0,4.4,0.15], nc:[4.8,1.35,4.9,1.25,5,1.3,5.2,1.3,5.6,1.3,6.9,1.75,8.1,1.25,4.8,1.05,5.4,0,4.6,-0.1], mt:[4.7,-0.1], mc:[4.9,-0.1,9.8,-0.1,4.8,-1.1,5.8,-1.1,6.8,-1.1,7.2,-1.1,9.3,-1.25,7.5,-1.5,7.8,-1.65]};
panelPoints[57] = {nc:[6.3,6.7,9.9,6.7,10.8,6.7,16,6.7,8.5,5.7,8.5,5.5,5,5.2,6.3,4.3,8.4,4.3,8.5,4.2,5,4,5.1,3.8,5,3.5,6.1,3.6,6.2,3.2,5.9,2.7,5.1,1.5,5.1,1.1,6.3,0.8], mc:[5.5,-0.7,6.3,-0.7]};
panelPoints[58] = {nt:[5.3,4.7,5.35,3.4,5.4,3.4,6.1,3.4,6.6,3.5,6.7,3.3,6.85,3.7,6.9,3.8,8.8,3.75,5.1,3.2,5.6,2.8,5,2.5,5.05,2.4,5.2,2.4,6.1,2.3,6.35,2.4,5.1,2.2,5.6,2,6.3,2,6.6,2,5.3,1.8,5.4,1.8,5.9,1.8,5.9,1.6,6.4,1.8,5.4,1.5,6.8,1.5,6.8,1.3,7.2,1.25,7.8,1.25,5,1.4,5.2,1.4,5.6,1,7.7,0.75,10.2,0.75,5.5,0.6,6.9,0.2,7.7,0.15], nc:[4.5,1.5,6.6,1,5.7,1.9,5,2.2], mt:[5.35,-0.55,5.65,-0.75,6.35,-0.05,6.7,-0.15,7.7,-0.1,6.2,-1.6,6.25,-1.65], mc:[5.9,0,6.15,-0.15,7.7,-0.15]};
panelPoints[60] = {nt:[4.8,0.8,6.6,0.8], mt:[5.8,-0.7,6.1,-1.6,6.2,-1.6,4.7,-1.6,4.9,-1.8,4.7,-2.1,6.4,-2.1,6.9,-2.4,7.1,-2.4], mc:[5.95,-1.2], ht:[5.1,-5.2,6.15,-5.2,7.4,-5.2,8.3,-5.2,9.1,-5.2,9.4,-5.2,13.7,-5.2], hc:[7.05,-5.85,6.85,-6.4]};
panelPoints[61] = {nt:[6.1,7,7.2,6.6,8,6.6,8.7,6.9,14.8,6.6,15.2,6.6,5.3,5.4,5.4,5.7,5,4.3,5.6,5,7.1,4.5,9,4.4,8.5,5,11.9,4.9,12.8,5.2,15.2,5.1,10,3.6,12.1,3.6,4.6,3.1,5.2,3.4,5.6,3.3,6,3.5,5,3.3,7.8,2.8,8.5,2.1,8.8,2,7,2.1,6.5,2,6,1.8,5.5,2,5,1.5,4.6,2.9,5.8,1,6.6,0.8,7.8,1.4,5.3,0.5,4.7,0.8,6.2,0.3,4.5,1.2,7.4,1.7,8.4,1.4], nc:[10.9,3.3,10.8,3.2,7,0.5,7.3,0.3,8.4,1.4,4.6,0.3,5,0.6,4.8,1.8,5.5,1.2,5.2,2.5], mc:[5.8,-0.1,7.1,-0.3,8.7,-0.4,10.5,-1.8,7.1,-1.4,5.8,-1.7,5,-1.2,4.7,-0.8,5.2,-0.5,4.6,-1.5,4.9,-0.3], mt:[4.5,-2.2,5.2,-1.9,6.4,-1.1,5,-0.9,4.8,-1,5.6,-1.5], ht:[8.1,-4.8]};

const NS = "http://www.w3.org/2000/svg";
const COLORS = {n:"#000000", m:"#0000FF", h:"#FF0000"};
const root = document.getElementById("panels");
function mk(tag, attrs, parent){ const e=document.createElementNS(NS,tag); for(const k in attrs) e.setAttribute(k,attrs[k]); if(parent) parent.appendChild(e); return e; }
function labelWidth(s){ let w=0; for(const ch of s){ w += ch==='.'?2.5:(ch==='-'?3:5); } return w; }

const CELL_W = 372.3, CELL_H = 185, X0 = 28;
titles.forEach((title, i) => {
  const row = Math.floor(i/8), col = i%8;
  const cl = X0 + col*CELL_W, ct = row*CELL_H;
  const cell = mk("svg", {x:(cl-3).toFixed(1), y:ct, width:CELL_W.toFixed(1), height:CELL_H, overflow:"hidden"}, root);
  
  
  const ox = 3;
  if (!legendOrder[i]) {
    const r = mk("rect", {x:ox+2, y:24, width:357, height:152, fill:"#EBEBEB"}, cell);
    
    
    const t = mk("text", {x:ox+2, y:16, "font-size":14, fill:"#1a1a1a"}, cell);
    
    
    t.textContent = title;
    return;
  }
  const xt = xTickLabels[i], yt = yTickLabels[i];
  const maxW = Math.max(...yt.map(labelWidth));
  const pl = ox + maxW + 7, pr = ox + 222, pt = 24, pb = 163;
  const pts = panelPoints[i] || {};
  let xs=[], ys=[];
  for (const k in pts){ const a=pts[k]; for(let j=0;j<a.length;j+=2){ xs.push(a[j]); ys.push(a[j+1]); } }
  function dom(v){ let lo=Math.min(...v), hi=Math.max(...v); if(hi-lo<1e-9){ return [lo-0.05, hi+0.05]; } const p=(hi-lo)*0.05; return [lo-p, hi+p]; }
  const xd = dom(xs), yd = yLimits[i] || dom(ys);
  const sx = v => pl + (v-xd[0])/(xd[1]-xd[0])*(pr-pl);
  const sy = v => pb - (v-yd[0])/(yd[1]-yd[0])*(pb-pt);

  const bg = mk("rect", {x:pl, y:pt, width:pr-pl, height:pb-pt, fill:"#EBEBEB"}, cell);
  
  
  const title_el = mk("text", {x:pl, y:16, "font-size":14, fill:"#1a1a1a"}, cell);
  
  
  title_el.textContent = title;

  const xv = xt.map(parseFloat), yv = yt.map(parseFloat);
  function minors(v, d){ const out=[]; if(v.length<2) return out; const st=v[1]-v[0]; for(let m=v[0]-st/2; m<=d[1]; m+=st){ if(m>=d[0]) out.push(m); } return out; }
  const grid = mk("g", {}, cell);
  
  
  minors(xv, xd).forEach(v => mk("line", {x1:sx(v), x2:sx(v), y1:pt, y2:pb, stroke:"#fff", "stroke-width":0.55}, grid));
  minors(yv, yd).forEach(v => mk("line", {x1:pl, x2:pr, y1:sy(v), y2:sy(v), stroke:"#fff", "stroke-width":0.55}, grid));
  xv.forEach((v,j) => {
    if (v<xd[0]||v>xd[1]) return;
    const X = sx(v);
    mk("line", {x1:X, x2:X, y1:pt, y2:pb, stroke:"#fff", "stroke-width":1.1}, grid);
    mk("line", {x1:X, x2:X, y1:pb, y2:pb+2.7, stroke:"#333", "stroke-width":0.6}, cell);
    const tl = mk("text", {x:X, y:pb+12, "font-size":8.5, fill:"#4D4D4D", "text-anchor":"middle"}, cell);
    
    
    tl.textContent = xt[j];
  });
  yv.forEach((v,j) => {
    if (v<yd[0]||v>yd[1]) return;
    const Y = sy(v);
    mk("line", {x1:pl, x2:pr, y1:Y, y2:Y, stroke:"#fff", "stroke-width":1.1}, grid);
    mk("line", {x1:pl-2.7, x2:pl, y1:Y, y2:Y, stroke:"#333", "stroke-width":0.6}, cell);
    const tl = mk("text", {x:pl-4, y:Y+3, "font-size":8.5, fill:"#4D4D4D", "text-anchor":"end"}, cell);
    
    
    tl.textContent = yt[j];
  });

  const pg = mk("g", {"fill":"none", "stroke-width":0.9}, cell);
  
  
  for (const k in pts){
    const col = COLORS[k[0]], a = pts[k];
    for (let j=0;j<a.length;j+=2){
      const X = sx(a[j]), Y = sy(a[j+1]);
      let p;
      if (k[1]==='c') p = mk("circle", {cx:X.toFixed(1), cy:Y.toFixed(1), r:2.2, stroke:col, "stroke-opacity":0.75}, pg);
      else p = mk("path", {d:`M${X.toFixed(1)},${(Y-3).toFixed(1)}L${(X-2.7).toFixed(1)},${(Y+1.6).toFixed(1)}L${(X+2.7).toFixed(1)},${(Y+1.6).toFixed(1)}Z`, stroke:col, "stroke-opacity":0.75}, pg);
      
      
    }
  }

  const groups = [];
  const zg = {title:"Z score conflict", items:[]};
  ["none","moderate","high"].slice(0, conflictLevels[i]).forEach((lab,j)=> zg.items.push({lab, color:["#000","#0000FF","#FF0000"][j], shape:"dot"}));
  const gg = {title:"GWAS catalog ancestry", items:[]};
  const anc = ancestry[i];
  if (anc==="E") gg.items.push({lab:"European", shape:"c"});
  else if (anc==="A") gg.items.push({lab:"East Asian", shape:"c"});
  else { gg.items.push({lab:"East Asian", shape:"c"}); gg.items.push({lab:"European", shape:"t"}); }
  if (legendOrder[i]==="ZG"){ groups.push(zg, gg); } else { groups.push(gg, zg); }
  let h = 0;
  groups.forEach((g,gi)=>{ h += 20 + (g.items.length-1)*17; if(gi<groups.length-1) h += 36; });
  const totalH = h + 8 + 8.5;
  let tc = (pt+pb)/2 - totalH/2 + 8;
  const lx = pr + 16;
  const lg = mk("g", {}, cell);
  
  
  groups.forEach((g,gi)=>{
    const tt = mk("text", {x:lx, y:tc+4, "font-size":11, fill:"#000"}, lg);
    
    
    tt.textContent = g.title;
    let kc = tc + 20;
    g.items.forEach((it,j)=>{
      mk("rect", {x:lx, y:kc-8.5, width:17, height:17, fill:"#F2F2F2"}, lg);
      const cx = lx+8.5;
      if (it.shape==="dot") mk("circle", {cx, cy:kc, r:2.3, fill:it.color}, lg);
      else if (it.shape==="c") mk("circle", {cx, cy:kc, r:2.2, fill:"none", stroke:"#000", "stroke-width":0.9}, lg);
      else mk("path", {d:`M${cx},${kc-3}L${cx-2.7},${kc+1.6}L${cx+2.7},${kc+1.6}Z`, fill:"none", stroke:"#000", "stroke-width":0.9}, lg);
      const lt = mk("text", {x:lx+23, y:kc+3, "font-size":8, fill:"#000"}, lg);
      
      
      lt.textContent = it.lab;
      if (j < g.items.length-1) kc += 17;
    });
    tc = kc + 36;
  });
});
</script>
</body></html>
